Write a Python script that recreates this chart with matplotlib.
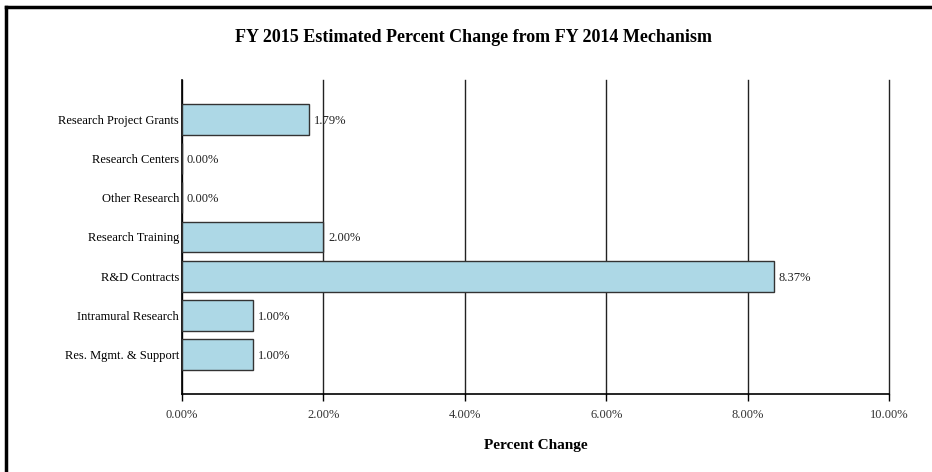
import matplotlib.pyplot as plt
from matplotlib.lines import Line2D

categories = ['Research Project Grants', 'Research Centers', 'Other Research',
              'Research Training', 'R&D Contracts', 'Intramural Research',
              'Res. Mgmt. & Support']
values = [1.79, 0.00, 0.00, 2.00, 8.37, 1.00, 1.00]
xticks = [0, 2, 4, 6, 8, 10]

plt.rcParams['font.family'] = ['Liberation Serif', 'DejaVu Serif']

fig = plt.figure(figsize=(9.32, 4.72), dpi=100)
ax = fig.add_axes([0.1953, 0.1653, 0.7586, 0.6652])

pos = list(range(len(categories)))
ax.barh(pos, values, height=0.78, color='#add8e6', edgecolor='#333333',
        linewidth=1.0, zorder=3)
for p, v in zip(pos, values):
    ax.text(v + 0.07, p, f'{v:.2f}%', va='center_baseline', ha='left',
            fontsize=9, color='#222222', zorder=4)

ax.set_ylim(len(categories), -1)
ax.set_xlim(0, 10)
ax.set_yticks(pos)
ax.set_yticklabels(categories, fontsize=9)
ax.tick_params(axis='y', length=0, pad=2)
ax.set_xticks(xticks)
ax.set_xticklabels([f'{t:.2f}%' for t in xticks], fontsize=9, color='#333333')
ax.tick_params(axis='x', length=5, width=1, pad=6)
ax.xaxis.grid(True, color='#222222', linewidth=1.0, zorder=0)
for gl in ax.get_xgridlines():
    gl.set_clip_on(False)
for s in ['top', 'right']:
    ax.spines[s].set_visible(False)
ax.spines['left'].set_linewidth(1.2)
ax.spines['bottom'].set_linewidth(1.2)

ax.set_xlabel('Percent Change', fontsize=11, fontweight='bold', labelpad=13)
fig.text(474 / 932, 1 - 38 / 472,
         'FY 2015 Estimated Percent Change from FY 2014 Mechanism',
         ha='center', va='center', fontsize=13, fontweight='bold')

# frame edges of the screenshot
fig.add_artist(Line2D([5.5 / 932, 1], [1 - 6.5 / 472, 1 - 6.5 / 472],
                      transform=fig.transFigure, color='black', linewidth=2.5))
fig.add_artist(Line2D([5.5 / 932, 5.5 / 932], [0, 1 - 6.5 / 472],
                      transform=fig.transFigure, color='black', linewidth=2.5))

fig.savefig('out.png', dpi=100)
